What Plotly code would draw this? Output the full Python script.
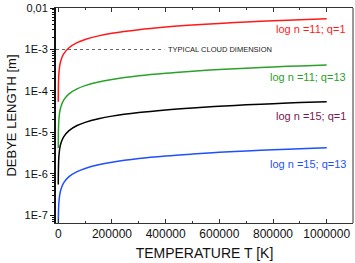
import plotly.graph_objects as go

temperature = [100, 300, 1000, 2000, 5000, 10000, 20000, 40000, 70000, 100000, 150000,
               200000, 300000, 400000, 500000, 600000, 700000, 800000, 900000, 1000000]
red_n11_q1 = [5.5e-5, 9.5e-5, 1.74e-4, 2.46e-4, 3.9e-4, 5.5e-4, 7.8e-4, 1.1e-3, 1.46e-3, 1.74e-3,
              2.13e-3, 2.46e-3, 3.01e-3, 3.48e-3, 3.89e-3, 4.26e-3, 4.6e-3, 4.92e-3, 5.22e-3, 5.5e-3]
green_n11_q13 = [4.2e-6, 7.3e-6, 1.34e-5, 1.89e-5, 3.0e-5, 4.2e-5, 6.0e-5, 8.5e-5, 1.12e-4, 1.34e-4,
                 1.64e-4, 1.89e-4, 2.32e-4, 2.68e-4, 2.99e-4, 3.28e-4, 3.54e-4, 3.78e-4, 4.02e-4, 4.23e-4]
black_n15_q1 = [5.5e-7, 9.5e-7, 1.74e-6, 2.46e-6, 3.9e-6, 5.5e-6, 7.8e-6, 1.1e-5, 1.46e-5, 1.74e-5,
                2.13e-5, 2.46e-5, 3.01e-5, 3.48e-5, 3.89e-5, 4.26e-5, 4.6e-5, 4.92e-5, 5.22e-5, 5.5e-5]
blue_n15_q13 = [4.2e-8, 7.3e-8, 1.34e-7, 1.89e-7, 3.0e-7, 4.2e-7, 6.0e-7, 8.5e-7, 1.12e-6, 1.34e-6,
                1.64e-6, 1.89e-6, 2.32e-6, 2.68e-6, 2.99e-6, 3.28e-6, 3.54e-6, 3.78e-6, 4.02e-6, 4.23e-6]

series_names = ["log n =11; q=1", "log n =11; q=13", "log n =15; q=1", "log n =15; q=13"]
cloud_dimension = 1e-3
cloud_label = "TYPICAL CLOUD DIMENSION"

y_tickvals = [1e-7, 1e-6, 1e-5, 1e-4, 1e-3, 1e-2]
y_ticktext = ["1E-7", "1E-6", "1E-5", "1E-4", "1E-3", "0,01"]
x_tickvals = [0, 200000, 400000, 600000, 800000, 1000000]
x_ticktext = ["0", "200000", "400000", "600000", "800000", "1000000"]

line_colors = ["#ff1a1a", "#2ca02c", "#000000", "#1f4fff"]
label_colors = ["#ff1a1a", "#2ca02c", "#7a1650", "#1f4fff"]
label_y = [26, 75, 115, 163]

fig = go.Figure()
for ys, c, name in zip([red_n11_q1, green_n11_q13, black_n15_q1, blue_n15_q13], line_colors, series_names):
    fig.add_trace(go.Scatter(x=temperature, y=ys, mode="lines", name=name,
                             line=dict(color=c, width=1.5, shape="spline"), showlegend=False))

# dotted "typical cloud dimension" line
fig.add_trace(go.Scatter(x=[-8500, 395000], y=[cloud_dimension, cloud_dimension], mode="lines",
                         line=dict(color="#666666", width=1.2, dash="dot"), showlegend=False))

for name, c, yp in zip(series_names, label_colors, label_y):
    fig.add_annotation(text=name, xref="paper", yref="paper", x=(348 - 56) / (353 - 56),
                       y=(223 - yp) / (223 - 5), xanchor="right", yanchor="middle",
                       showarrow=False, font=dict(family="Arial, Liberation Sans", size=11, color=c))

fig.add_annotation(text=cloud_label, x=400000, y=-3, xref="x", yref="y", xanchor="left",
                   yanchor="middle", showarrow=False,
                   font=dict(family="Arial, Liberation Sans", size=7.5, color="#222222"))

# right border line
fig.add_shape(type="line", xref="paper", yref="paper", x0=1, x1=1, y0=0, y1=1,
              line=dict(color="#333333", width=1))

fig.update_layout(
    width=355, height=263,
    margin=dict(l=56, r=2, t=5, b=40),
    paper_bgcolor="white", plot_bgcolor="white",
    font=dict(family="Arial, Liberation Sans", color="#111111"),
    xaxis=dict(range=[-8500, 1098000], tickvals=x_tickvals, ticktext=x_ticktext,
               ticks="inside", ticklen=4, tickcolor="#333333", showgrid=False, zeroline=False,
               showline=True, linecolor="#333333", linewidth=1, mirror="ticks",
               minor=dict(ticks="inside", ticklen=2, dtick=100000, tickcolor="#333333", showgrid=False),
               tickfont=dict(size=12),
               title=dict(text="TEMPERATURE T [K]", font=dict(size=14), standoff=7)),
    yaxis=dict(type="log", range=[-7.19, -1.998], tickvals=y_tickvals, ticktext=y_ticktext,
               ticks="outside", ticklen=4, tickcolor="#111111", showgrid=False, zeroline=False,
               showline=True, linecolor="#111111", linewidth=2, ticklabeloverflow="allow",
               minor=dict(ticks="outside", ticklen=2, dtick="D1", tickcolor="#111111", showgrid=False),
               tickfont=dict(size=11),
               title=dict(text="DEBYE LENGTH [m]", font=dict(size=13), standoff=5)),
)

fig.write_html("out.html", config={"displayModeBar": False},
               post_script="document.body.style.margin='0';document.body.style.padding='0';"
                           "document.documentElement.style.overflow='hidden';")
